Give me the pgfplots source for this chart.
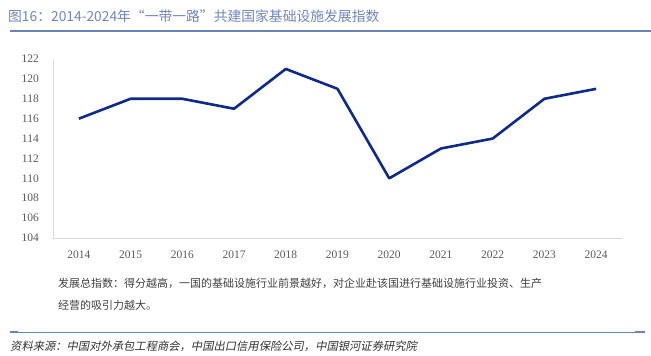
\documentclass[border=0pt]{standalone}
\usepackage{fontspec}
\setmainfont{Liberation Serif}
\newfontfamily\cjk{Noto Sans CJK SC}
\newfontfamily\cjkit[FakeSlant=0.2]{Noto Sans CJK SC}
\usepackage{pgfplots}
\pgfplotsset{compat=1.18}
\definecolor{titleblue}{RGB}{112,134,190}
\definecolor{rule}{RGB}{104,132,190}
\definecolor{navy}{RGB}{14,42,140}
\definecolor{axgray}{RGB}{217,217,217}
\definecolor{tickgray}{RGB}{89,89,89}
\begin{document}
\begin{tikzpicture}[x=1pt,y=1pt]
\path[use as bounding box] (0,0) rectangle (651,-356);
% title
\node[anchor=west, inner sep=0pt, text=titleblue] at (8,-16) {\cjk\fontsize{13.8}{16}\selectfont 图16：2014-2024年“一带一路”共建国家基础设施发展指数};
\draw[rule, line width=2pt] (10,-30.5) -- (651,-30.5);
\begin{axis}[
  at={(53pt,-238pt)}, anchor=south west,
  scale only axis, width=569pt, height=179pt,
  xmin=2013.5, xmax=2024.5, ymin=104, ymax=122,
  axis x line=bottom, axis y line=left,
  axis line style={axgray, line width=0.8pt, -},
  xtick={2014,...,2024}, ytick={104,106,...,122},
  major tick length=0pt,
  /pgf/number format/assume math mode=true,
  xticklabel style={/pgf/number format/1000 sep={}, font=\fontsize{11.5}{13}\selectfont, text=tickgray, inner sep=0pt, anchor=north, yshift=-13pt},
  yticklabel style={font=\fontsize{11.5}{13}\selectfont, text=tickgray, inner sep=0pt, anchor=east, xshift=-14pt},
  clip=false,
]
\addplot[navy, line width=2.6pt, line join=round, mark=none] coordinates {
(2014,116) (2015,118) (2016,118) (2017,117) (2018,121) (2019,119)
(2020,110) (2021,113) (2022,114) (2023,118) (2024,119)};
\end{axis}
% note
\node[anchor=west, inner sep=0pt, text=black!75] at (58,-283) {\cjk\fontsize{11}{13}\selectfont 发展总指数：得分越高，一国的基础设施行业前景越好，对企业赴该国进行基础设施行业投资、生产};
\node[anchor=west, inner sep=0pt, text=black!75] at (58,-305) {\cjk\fontsize{11}{13}\selectfont 经营的吸引力越大。};
% bottom rule
\draw[rule, line width=0.8pt] (10,-332) -- (640,-332);
\draw[rule, line width=2pt] (10,-331.5) -- (18,-331.5);
\draw[rule, line width=2pt] (635,-331.5) -- (645,-331.5);
\node[anchor=west, inner sep=0pt, text=black!80] at (10,-346) {\cjkit\fontsize{11.3}{13}\selectfont 资料来源：中国对外承包工程商会，中国出口信用保险公司，中国银河证券研究院};
\end{tikzpicture}
\end{document}
